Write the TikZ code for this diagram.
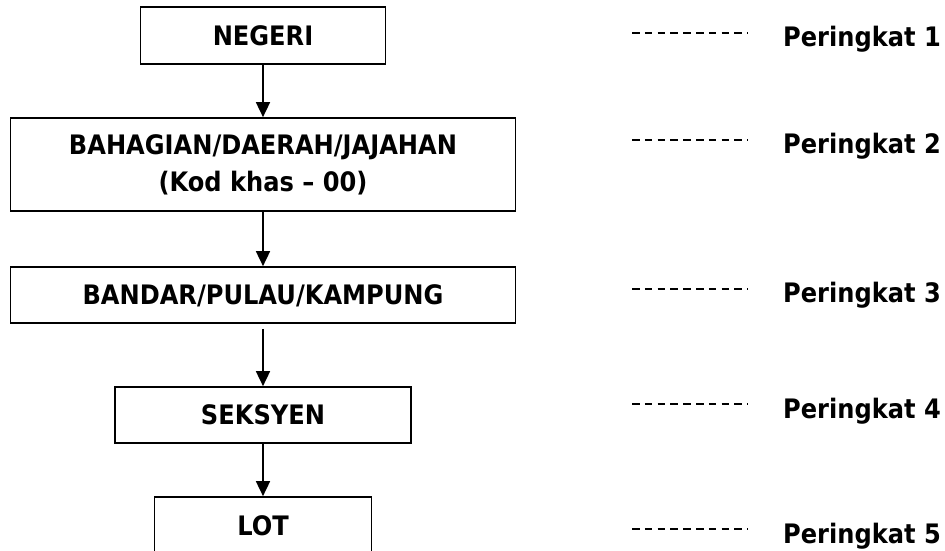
\documentclass[tikz,border=0pt]{standalone}
\usepackage{fontspec}
\newfontfamily\tfont{DejaVu Sans}[FakeStretch=0.9]
\usetikzlibrary{arrows.meta}
\begin{document}
\begin{tikzpicture}[x=1pt,y=-1pt,
  box/.style={draw, line width=1.7pt, inner sep=0pt, align=center,
    font=\tfont\bfseries\fontsize{26.8}{37}\selectfont},
  oneline/.style={text height=19.5pt, text depth=0pt},
  lvl/.style={anchor=base west, inner sep=0pt,
    font=\tfont\bfseries\fontsize{26.8}{37}\selectfont},
  link/.style={line width=1.7pt, -{Triangle[width=14pt,length=15pt]}},
  leader/.style={line width=1.4pt, dash pattern=on 7.5pt off 5.3pt}]
\useasboundingbox (0,0) rectangle (945,551);
\clip (0,0) rectangle (945,551);
\fill[white] (0,0) rectangle (945,551);

% boxes
\node[box, oneline, minimum width=245pt, minimum height=57pt] (b1) at (263,35.5) {NEGERI};
\node[box, minimum width=505pt, minimum height=93pt] (b2) at (263,164.5) {BAHAGIAN/DAERAH/JAJAHAN\\(Kod khas – 00)};
\node[box, oneline, minimum width=505pt, minimum height=56pt] (b3) at (263,295) {BANDAR/PULAU/KAMPUNG};
\node[box, oneline, minimum width=296pt, minimum height=56pt] (b4) at (263,415) {SEKSYEN};
\node[box, oneline, minimum width=217pt, minimum height=57pt] (b5) at (263,525.5) {LOT};

% connectors
\draw[link] (b1.south) -- (b2.north);
\draw[link] (b2.south) -- (b3.north);
\draw[link, shorten <=5pt] (b3.south) -- (b4.north);
\draw[link] (b4.south) -- (b5.north);

% level labels
\node[lvl] (p1) at (783,47) {Peringkat 1};
\node[lvl] (p2) at (783,153) {Peringkat 2};
\node[lvl] (p3) at (783,302) {Peringkat 3};
\node[lvl] (p4) at (783,418) {Peringkat 4};
\node[lvl] (p5) at (783,543) {Peringkat 5};

\coordinate (d1a) at (632,33);  \coordinate (d1b) at (748,33);
\coordinate (d2a) at (632,140); \coordinate (d2b) at (748,140);
\coordinate (d3a) at (632,289); \coordinate (d3b) at (748,289);
\coordinate (d4a) at (632,404); \coordinate (d4b) at (748,404);
\coordinate (d5a) at (632,529); \coordinate (d5b) at (748,529);
\draw[leader] (d1a) -- (d1b);
\draw[leader] (d2a) -- (d2b);
\draw[leader] (d3a) -- (d3b);
\draw[leader] (d4a) -- (d4b);
\draw[leader] (d5a) -- (d5b);
\end{tikzpicture}
\end{document}
